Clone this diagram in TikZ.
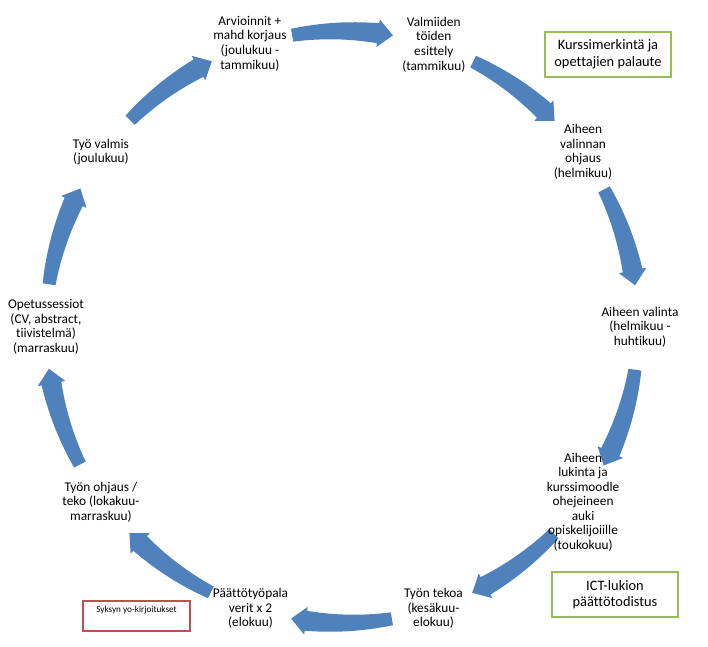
\documentclass[tikz,border=0pt]{standalone}
\usepackage{fontspec}
\setmainfont{Carlito}[Ligatures={NoCommon}]
\definecolor{cycleblue}{HTML}{4F81BD}
\definecolor{notegreen}{HTML}{9BBB59}
\definecolor{notered}{HTML}{C0504D}
\begin{document}
\begin{tikzpicture}[x=0.75pt, y=0.75pt,
  phase/.style={align=center, inner sep=1pt, font=\fontsize{10}{10.9}\selectfont},
  note/.style={draw=notegreen, line width=1.5pt, align=center, minimum width=94.5pt, minimum height=33.75pt, font=\fontsize{10.8}{12.5}\selectfont},
  rednote/.style={draw=notered, line width=1.2pt, minimum width=80pt, minimum height=22.5pt}]
\useasboundingbox (0,0) rectangle (708,647);
\begin{scope}[shift={(342,320)}]
% arrows of the cycle, clockwise, body widening towards the head
\foreach \a in {90,54,18,-18,-54,-90,-126,-162,162,126}
  \fill[cycleblue] plot[domain=\a+9.7:\a-7, samples=20] (\x:{302.5+3.5*(\a+9.7-\x)/16.7})
    -- (\a-7:310) -- (\a-9.9:296) -- (\a-7:282)
    -- plot[domain=\a-7:\a+9.7, samples=20] (\x:{289.5-3.5*(\a+9.7-\x)/16.7}) -- cycle;
% phases
\node[phase] (arv) at (108:298) {Arvioinnit +\\mahd korjaus\\(joulukuu -\\tammikuu)};
\node[phase] (esit) at (72:297) {Valmiiden\\töiden\\esittely\\(tammikuu)};
\node[phase] (ohj) at (36:298) {Aiheen\\valinnan\\ohjaus\\(helmikuu)};
\node[phase] (val) at (0:298) {Aiheen valinta\\(helmikuu -\\huhtikuu)};
\node[phase] (luk) at (-36:298) {Aiheen\\lukinta ja\\kurssimoodle\\ohejeineen\\auki\\opiskelijoiille\\(toukokuu)};
\node[phase] (tek) at (-72:296) {Työn tekoa\\(kesäkuu-\\elokuu)};
\node[phase] (pala) at (-108:296) {Päättötyöpala\\verit x 2\\(elokuu)};
\node[phase] (ohjt) at (-144:298) {Työn ohjaus /\\teko (lokakuu-\\marraskuu)};
\node[phase] (opet) at (180:296) {Opetussessiot\\(CV, abstract,\\tiivistelmä)\\(marraskuu)};
\node[phase] (valm) at (144:298) {Työ valmis\\(joulukuu)};
\end{scope}
% side notes
\node[note] (merk) at (608,592.5) {Kurssimerkintä ja\\opettajien palaute};
\node[note] (ict) at (615,52.5) {ICT-lukion\\päättötodistus};
\node[rednote, label={[anchor=north, inner sep=0pt, yshift=-4pt, font=\fontsize{6.9}{8}\selectfont]north:Syksyn yo-kirjoitukset}] (yo) at (136.5,31) {};
\end{tikzpicture}
\end{document}
